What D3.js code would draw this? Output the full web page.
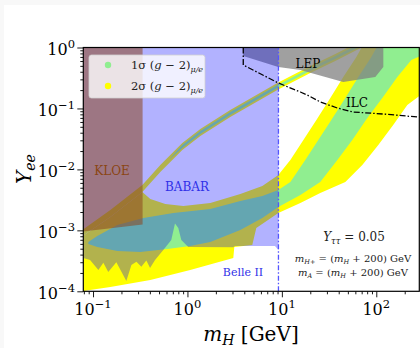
<!DOCTYPE html>
<html>
<head>
<meta charset="utf-8">
<script src="https://cdn.jsdelivr.net/npm/d3@7"></script>
<style>
body { margin: 0; background: #f8f8f8; }
svg { display: block; }
text { font-family: "DejaVu Serif", serif; }
</style>
</head>
<body>
<svg id="chart" width="420" height="348"></svg>
<script>
// ---- data (mH in GeV, Yee) ----
var xMajor = [0.1, 1, 10, 100];
var xTickExp = ["\u22121", "0", "1", "2"];
var yMajor = [1e-4, 1e-3, 1e-2, 1e-1, 1];
var yTickExp = ["\u22124", "\u22123", "\u22122", "\u22121", "0"];

// narrow upper branch of the (g-2) band
var stripeM        = [0.075, 0.1525, 0.333, 0.516, 0.882, 1.37, 2.84, 8.95, 20.0, 36.8, 70];
var stripeYellowHi = [0.00098, 0.00216, 0.00555, 0.0118, 0.0271, 0.046, 0.0943, 0.262, 0.497, 0.782, 1.3];
var stripeYellowLo = [0.00078, 0.00166, 0.00426, 0.00906, 0.0208, 0.0353, 0.0724, 0.2008, 0.382, 0.600, 1.0];
var stripeGreenM   = [0.65, 0.882, 1.37, 2.84, 8.95, 20.0, 36.8, 70];
var stripeGreenHi  = [0.0150, 0.0251, 0.0427, 0.0874, 0.2425, 0.461, 0.725, 1.2];
var stripeGreenLo  = [0.0148, 0.02245, 0.0381, 0.0781, 0.2165, 0.4115, 0.648, 1.06];

// broad lower branch (2 sigma and 1 sigma)
var lowerYellow = [
  [0.075,0.00078],[0.1525,0.00166],[0.333,0.00426],[0.4045,0.00327],[0.583,0.00271],[0.904,0.00251],
  [1.747,0.00281],[3.63,0.00395],[6.21,0.00534],[9.17,0.00809],[12.3,0.01426],[16.9,0.0304],
  [23.2,0.0646],[32.6,0.1484],[44.7,0.328],[61.5,0.698],[76.5,1.28],[330,1.28],[330,0.19],
  [213,0.1139],[151,0.0535],[105,0.0251],[71.1,0.01181],[47,0.00621],[25.5,0.0041],[15.7,0.00281],
  [9.17,0.00193],[5.36,0.00109],[4.86,0.000575],[3.135,0.000533],[3.06,0.000352],[1.07,0.000224],
  [0.4045,0.000153],[0.1525,0.000118],[0.0789,0.000101],[0.075,0.00009]
];
var lowerGreen = [
  [0.0892,0.000644],[0.111,0.000808],[0.181,0.00122],[0.341,0.00159],[0.7085,0.00193],[1.747,0.00224],
  [3.63,0.00303],[6.21,0.00366],[9.17,0.00459],[12.3,0.00621],[17.7,0.01426],[24.3,0.0304],
  [33.4,0.0646],[47,0.1484],[64.5,0.328],[88.6,0.698],[110,1.28],[330,1.28],[330,0.78],
  [235,0.624],[167,0.328],[115.8,0.1484],[80.3,0.0697],[55.7,0.0304],[38.7,0.01426],[25.5,0.00621],
  [15.7,0.0038],[9.17,0.00242],[6.21,0.00159],[3.63,0.00101],[1.747,0.000644],[1.07,0.000553],
  [0.612,0.000494],[0.317,0.000441],[0.181,0.000458],[0.111,0.000533],[0.0892,0.000597]
];

// experimental exclusions
var babar = [
  [0.075,1.3],[9.2,1.3],[9.2,0.000476],[8.45,0.000553],[3.19,0.000553],[3.06,0.000527],[1.02,0.000533],
  [0.861,0.000695],[0.80,0.00109],[0.738,0.0013],[0.6745,0.000695],[0.555,0.000476],[0.454,0.000326],
  [0.402,0.000241],[0.367,0.00032],[0.325,0.000254],[0.288,0.000305],[0.255,0.00027],[0.2254,0.000148],
  [0.1766,0.0003],[0.145,0.000207],[0.1286,0.000295],[0.114,0.000224],[0.093,0.000326],[0.0789,0.000352],[0.075,0.00036]
];
var kloe = [[0.075,1.3],[0.335,1.3],[0.335,0.00125],[0.075,0.00095]];
var lep = [[3.9,1.3],[118.7,1.3],[118.7,0.479],[97.6,0.328],[44.7,0.272],[15.7,0.427],[9.17,0.479],[3.9,0.725]];
var ilc = [[3.9,1.0],[3.9,0.516],[9.16,0.262],[15.7,0.186],[18.6,0.166],[25.5,0.128],[38.6,0.1017],
           [57,0.0874],[119,0.081],[272,0.0724],[300,0.071]];
var belleMass = 9.2;

var legendLabels = ["1\u03c3", "2\u03c3"];
var legendColors = ["#90ee90", "#ffff00"];

// ---- layout ----
var margins = {left: 83.3, top: 47.5, right: 0.7, bottom: 56.7};
var screen = {width: 420, height: 348};

var svg = d3.select("#chart");
svg.append("rect").attr("x", 4).attr("y", 5).attr("width", 416).attr("height", 343).attr("fill", "white");

var xScale = d3.scaleLog().domain([0.0789, 285.4]).range([margins.left, screen.width - margins.right]);
var yScale = d3.scaleLog().domain([1e-4, 1]).range([screen.height - margins.bottom, margins.top]);

svg.append("clipPath").attr("id", "plotclip")
    .append("rect")
    .attr("x", margins.left).attr("y", margins.top)
    .attr("width", xScale.range()[1] - margins.left)
    .attr("height", yScale.range()[0] - margins.top);

var plot = svg.append("g").attr("clip-path", "url(#plotclip)");

var polygon = d3.line().x(function(d){return xScale(d[0]);}).y(function(d){return yScale(d[1]);});
var band = function(ms, lo, hi)
{
    return d3.area()
        .x(function(d, i){return xScale(ms[i]);})
        .y0(function(d, i){return yScale(lo[i]);})
        .y1(function(d, i){return yScale(hi[i]);})(ms);
};

// bands
plot.append("path").attr("d", polygon(lowerYellow) + "Z").attr("fill", "#ffff00");
plot.append("path").attr("d", band(stripeM, stripeYellowLo, stripeYellowHi)).attr("fill", "#ffff00");
plot.append("path").attr("d", polygon(lowerGreen) + "Z").attr("fill", "#90ee90");
plot.append("path").attr("d", band(stripeGreenM, stripeGreenLo, stripeGreenHi)).attr("fill", "#90ee90");

// exclusions
plot.append("path").attr("d", polygon(lep) + "Z").attr("fill", "#808080").attr("fill-opacity", 0.75);
plot.append("path").attr("d", polygon(babar) + "Z").attr("fill", "#0000ff").attr("fill-opacity", 0.3);
plot.append("path").attr("d", polygon(kloe) + "Z").attr("fill", "rgb(140,70,30)").attr("fill-opacity", 0.55);

// projections
plot.append("path").attr("d", polygon(ilc))
    .attr("fill", "none").attr("stroke", "black").attr("stroke-width", 1.3)
    .attr("stroke-dasharray", "6,2,1.5,2");
plot.append("line")
    .attr("x1", xScale(belleMass)).attr("x2", xScale(belleMass))
    .attr("y1", yScale(1e-4)).attr("y2", yScale(1))
    .attr("stroke", "#5555ff").attr("stroke-width", 1.3)
    .attr("stroke-dasharray", "5,2,1.5,2");

// axes
var xMinor = xScale.ticks().filter(function(t){return xMajor.indexOf(t) < 0;});
var yMinor = yScale.ticks().filter(function(t){return yMajor.indexOf(t) < 0;});

var axes = svg.append("g").attr("class", "axes");
axes.append("g")
    .attr("transform", "translate(0," + yScale(1e-4) + ")")
    .call(d3.axisBottom(xScale).tickValues(xMinor).tickSize(3).tickFormat(""));
axes.append("g")
    .attr("transform", "translate(0," + yScale(1e-4) + ")")
    .call(d3.axisBottom(xScale).tickValues(xMajor).tickSize(6).tickFormat(""));
axes.append("g")
    .attr("transform", "translate(" + margins.left + ",0)")
    .call(d3.axisLeft(yScale).tickValues(yMinor).tickSize(3).tickFormat(""));
axes.append("g")
    .attr("transform", "translate(" + margins.left + ",0)")
    .call(d3.axisLeft(yScale).tickValues(yMajor).tickSize(6).tickFormat(""));
axes.selectAll(".domain").remove();
axes.selectAll(".tick line").attr("stroke", "black").attr("stroke-width", 0.9);

svg.append("rect")
    .attr("x", margins.left).attr("y", margins.top)
    .attr("width", xScale.range()[1] - margins.left)
    .attr("height", yScale.range()[0] - margins.top)
    .attr("fill", "none").attr("stroke", "black").attr("stroke-width", 1.2);

// tick labels
xMajor.forEach(function(v, i){
    var t = svg.append("text").attr("x", xScale(v)).attr("y", 315)
        .attr("text-anchor", "middle").attr("font-size", 16);
    t.append("tspan").text("10");
    t.append("tspan").attr("dy", -7).attr("font-size", 11.5).text(xTickExp[i]);
});
yMajor.forEach(function(v, i){
    var t = svg.append("text").attr("x", 75).attr("y", yScale(v) + 7.5)
        .attr("text-anchor", "end").attr("font-size", 16);
    t.append("tspan").text("10");
    t.append("tspan").attr("dy", -7).attr("font-size", 11.5).text(yTickExp[i]);
});

// axis titles
var xl = svg.append("text").attr("x", 251).attr("y", 341).attr("text-anchor", "middle").attr("font-size", 20);
xl.append("tspan").attr("font-style", "italic").text("m");
xl.append("tspan").attr("font-style", "italic").attr("font-size", 14).attr("dy", 4).text("H");
xl.append("tspan").attr("dy", -4).text(" [GeV]");

var yl = svg.append("text").attr("transform", "translate(31,169) rotate(-90)")
    .attr("text-anchor", "middle").attr("font-size", 20);
yl.append("tspan").attr("font-style", "italic").text("Y");
yl.append("tspan").attr("font-style", "italic").attr("font-size", 14).attr("dy", 4).text("ee");

// region labels
var labels = svg.append("g").attr("font-size", 12).attr("text-anchor", "middle");
labels.append("text").attr("x", 112).attr("y", 175).attr("fill", "#8b4513").text("KLOE");
labels.append("text").attr("x", 187).attr("y", 191).attr("fill", "#3030e8").text("BABAR");
labels.append("text").attr("x", 243).attr("y", 276).attr("fill", "#3030e8").attr("font-size", 11).text("Belle II");
labels.append("text").attr("x", 308).attr("y", 68).attr("fill", "black").text("LEP");
labels.append("text").attr("x", 357).attr("y", 107).attr("fill", "black").text("ILC");

var ann = svg.append("g").attr("text-anchor", "middle").attr("fill", "#222");
var a1 = ann.append("text").attr("x", 354).attr("y", 241).attr("font-size", 12);
a1.append("tspan").attr("font-style", "italic").text("Y");
a1.append("tspan").attr("font-style", "italic").attr("font-size", 8.5).attr("dy", 3).text("\u03c4\u03c4");
a1.append("tspan").attr("dy", -3).text(" = 0.05");

var mLine = function(yPos, sub)
{
    var t = ann.append("text").attr("x", 353).attr("y", yPos).attr("font-size", 10);
    t.append("tspan").attr("font-style", "italic").text("m");
    t.append("tspan").attr("font-style", "italic").attr("font-size", 6.5).attr("dy", 2).text(sub);
    t.append("tspan").attr("dy", -2).text(" = (");
    t.append("tspan").attr("font-style", "italic").text("m");
    t.append("tspan").attr("font-style", "italic").attr("font-size", 6.5).attr("dy", 2).text("H");
    t.append("tspan").attr("dy", -2).text(" + 200) GeV");
};
mLine(262, "H+");
mLine(276, "A");

// legend
var legend = svg.append("g");
legend.append("rect").attr("x", 89).attr("y", 55).attr("width", 116).attr("height", 43).attr("rx", 2.5)
    .attr("fill", "white").attr("fill-opacity", 0.8).attr("stroke", "#d0d0d0").attr("stroke-width", 0.8);
legendLabels.forEach(function(lab, i){
    var cy = 65 + i * 21;
    legend.append("circle").attr("cx", 108).attr("cy", cy).attr("r", 3.2).attr("fill", legendColors[i]);
    var t = legend.append("text").attr("x", 131).attr("y", cy + 4).attr("font-size", 11.5).attr("fill", "#222");
    t.append("tspan").text(lab + " (");
    t.append("tspan").attr("font-style", "italic").text("g");
    t.append("tspan").text(" \u2212 2)");
    t.append("tspan").attr("font-style", "italic").attr("font-size", 8).attr("dy", 3).text("\u03bc/e");
});
</script>
</body>
</html>
